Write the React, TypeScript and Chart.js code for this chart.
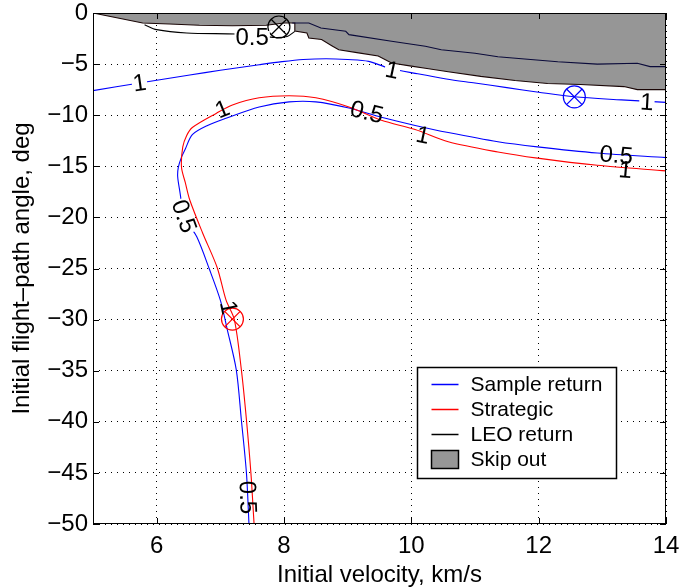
import { useEffect, useRef } from 'react';
import { Chart, registerables } from 'chart.js';

Chart.register(...registerables);

const FONT = '"Liberation Sans", Arial, Helvetica, sans-serif';

// Axis ticks
const xTicks = [6, 8, 10, 12, 14];
const yTicks = [0, -5, -10, -15, -20, -25, -30, -35, -40, -45, -50];

// Skip-out region: lower boundary (filled up to gamma = 0)
const skipV = [5, 5.78, 6.2, 6.67, 7.19, 7.72, 8.0, 8.17, 8.17, 8.36, 8.39, 8.59, 8.75, 8.86, 9.17, 9.48, 9.69, 10.0, 10.22, 10.58, 11.09, 11.63, 12.14, 12.66, 13.34, 13.55, 14];
const skipGamma = [0, -0.98, -1.08, -1.2, -1.25, -1.2, -0.98, -0.98, -1.76, -1.96, -2.45, -2.6, -3.2, -3.6, -3.9, -4.2, -4.9, -5.2, -5.4, -5.75, -6.2, -6.6, -6.9, -7.0, -7.2, -7.5, -7.5];

// Inner boundary inside the skip-out region
const innerV = [8.13, 8.39, 8.58, 8.97, 9.02, 9.69, 10.22, 10.47, 11.0, 11.36, 11.78, 12.3, 12.92, 13.55, 13.75, 14];
const innerGamma = [-0.98, -0.98, -1.47, -1.79, -2.12, -2.77, -3.26, -3.59, -3.94, -4.28, -4.5, -4.77, -5.0, -4.92, -5.25, -5.25];

// LEO return, 0.5 contour
const leoV = [5.81, 6.0, 6.47, 7.25, 7.6, 7.85, 8.05, 8.17];
const leoGamma = [-1.14, -1.63, -1.96, -2.05, -2.2, -2.4, -2.3, -1.8];

// Sample return, upper contour (1)
const srUpperV = [5, 5.73, 6.52, 7.0, 7.61, 7.97, 8.3, 8.66, 9.0, 9.33, 9.64, 10.1, 10.55, 11.0, 11.5, 12.0, 12.56, 13.3, 14];
const srUpperGamma = [-7.6, -6.85, -6.07, -5.6, -5.06, -4.76, -4.55, -4.47, -4.55, -4.73, -5.38, -5.95, -6.45, -6.85, -7.3, -7.75, -8.2, -8.5, -8.75];

// Sample return, lower contours (0.5 / 1)
const srLowerV = [7.45, 7.41, 7.33, 7.25, 7.11, 7.0, 6.83, 6.63, 6.44, 6.36, 6.33, 6.34, 6.39, 6.45, 6.56, 6.8, 7.09, 7.61, 8.08, 8.5, 9.02, 9.53, 10.06, 10.58, 11.36, 11.98, 12.92, 14];
const srLowerGamma = [-50, -45, -39.8, -34.9, -31.0, -28.1, -25.1, -21.9, -20.0, -17.3, -16.0, -15.1, -14.1, -13.3, -11.9, -11.0, -10.3, -9.2, -8.7, -8.7, -9.3, -10.2, -11.0, -11.7, -12.6, -13.1, -13.7, -14.15];

// Strategic contours (0.5 / 1)
const stratV = [7.53, 7.48, 7.41, 7.33, 7.22, 7.09, 6.95, 6.72, 6.52, 6.45, 6.39, 6.41, 6.47, 6.56, 6.94, 7.19, 7.61, 8.08, 8.5, 9.02, 9.53, 10.06, 10.58, 11.36, 11.98, 12.92, 14];
const stratGamma = [-50, -45, -39.8, -34.9, -30.0, -28.1, -24.9, -21.5, -18.3, -16.6, -15.1, -13.1, -12.0, -11.2, -9.8, -9.0, -8.3, -8.1, -8.3, -9.2, -10.5, -11.4, -12.6, -13.6, -14.2, -14.9, -15.45];

// Design points
const pointV = [7.92, 12.56, 7.19];
const pointGamma = [-1.37, -8.2, -29.95];
const pointColors = ['#000000', '#0000ff', '#ff0000'];

// Contour labels
const labelText = ['0.5', '1', '1', '1', '1', '0.5', '1', '0.5', '1', '0.5', '1', '0.5'];
const labelV = [7.5, 5.73, 9.7, 13.7, 7.03, 9.3, 10.18, 13.22, 13.36, 6.43, 7.13, 7.43];
const labelGamma = [-2.35, -6.85, -5.6, -8.72, -9.4, -9.7, -11.95, -13.9, -15.35, -19.9, -28.8, -47.4];
const labelRot = [0, -8, 12, 3, -22, 14, 12, 5, 5, 70, 78, 88];
const labelGap = [true, true, true, true, false, false, false, false, false, true, false, false];

const legendNames = ['Sample return', 'Strategic', 'LEO return', 'Skip out'];
const legendColors = ['#0000ff', '#ff0000', '#000000', '#969696'];

const xy = (xs: number[], ys: number[]) => xs.map((x, i) => ({ x, y: ys[i] }));

const line = (data: { x: number; y: number }[], color: string, order = 1) => ({
  data,
  borderColor: color,
  borderWidth: 1.1,
  pointRadius: 0,
  tension: 0.3,
  fill: false,
  order,
});

const decorPlugin = {
  id: 'decor',
  afterDatasetsDraw(chart: any) {
    const { ctx, chartArea: a, scales } = chart;
    const sx = scales.x, sy = scales.y;
    ctx.save();
    // contour labels
    ctx.font = `24px ${FONT}`;
    ctx.textAlign = 'center';
    ctx.textBaseline = 'middle';
    labelText.forEach((t, i) => {
      const px = sx.getPixelForValue(labelV[i]);
      const py = sy.getPixelForValue(labelGamma[i]);
      ctx.save();
      ctx.translate(px, py);
      ctx.rotate((labelRot[i] * Math.PI) / 180);
      if (labelGap[i]) {
        const w = ctx.measureText(t).width;
        ctx.fillStyle = '#ffffff';
        ctx.fillRect(-w / 2 - 1, -6, w + 2, 12);
      }
      ctx.fillStyle = '#000000';
      ctx.fillText(t, 0, 1);
      ctx.restore();
    });
    // frame with inward ticks
    ctx.strokeStyle = '#000000';
    ctx.lineWidth = 1;
    ctx.strokeRect(Math.round(a.left) + 0.5, Math.round(a.top) + 0.5, Math.round(a.right - a.left) - 1, Math.round(a.bottom - a.top) - 1);
    const tl = 6;
    ctx.beginPath();
    xTicks.forEach((v) => {
      const px = Math.round(sx.getPixelForValue(v)) + 0.5;
      ctx.moveTo(px, a.bottom);
      ctx.lineTo(px, a.bottom - tl);
      ctx.moveTo(px, a.top);
      ctx.lineTo(px, a.top + tl);
    });
    yTicks.forEach((v) => {
      const py = Math.round(sy.getPixelForValue(v)) + 0.5;
      ctx.moveTo(a.left, py);
      ctx.lineTo(a.left + tl, py);
      ctx.moveTo(a.right, py);
      ctx.lineTo(a.right - tl, py);
    });
    ctx.stroke();
    ctx.restore();
  },
  afterDraw(chart: any) {
    const { ctx, chartArea: a } = chart;
    ctx.save();
    const bx = Math.round(a.right) - 248.5;
    const by = Math.round(a.bottom) - 156.5;
    const bw = 199;
    const bh = 111;
    ctx.fillStyle = '#ffffff';
    ctx.fillRect(bx, by, bw, bh);
    ctx.strokeStyle = '#000000';
    ctx.lineWidth = 1.5;
    ctx.strokeRect(bx, by, bw, bh);
    ctx.font = `21px ${FONT}`;
    ctx.textAlign = 'left';
    ctx.textBaseline = 'middle';
    legendNames.forEach((name, i) => {
      const cy = by + 17 + i * 25;
      if (i < 3) {
        ctx.strokeStyle = legendColors[i];
        ctx.lineWidth = 1.5;
        ctx.beginPath();
        ctx.moveTo(bx + 14, cy);
        ctx.lineTo(bx + 41, cy);
        ctx.stroke();
      } else {
        ctx.fillStyle = legendColors[i];
        ctx.fillRect(bx + 14, cy - 9, 27, 18);
        ctx.strokeStyle = '#000000';
        ctx.lineWidth = 1.5;
        ctx.strokeRect(bx + 14, cy - 9, 27, 18);
      }
      ctx.fillStyle = '#000000';
      ctx.fillText(name, bx + 53, cy + 1);
    });
    ctx.restore();
  },
};

export default function App() {
  const ref = useRef<HTMLCanvasElement | null>(null);

  useEffect(() => {
    if (!ref.current) return;
    const markerData = xy(pointV, pointGamma);
    const chart = new Chart(ref.current, {
      type: 'line',
      data: {
        datasets: [
          {
            data: xy(skipV, skipGamma),
            borderColor: '#1a0606',
            borderWidth: 1.1,
            backgroundColor: '#969696',
            pointRadius: 0,
            tension: 0,
            fill: 'end',
            order: 10,
          },
          { ...line(xy(innerV, innerGamma), '#0a0a3a', 5), tension: 0 },
          line(xy(leoV, leoGamma), '#000000', 4),
          line(xy(srUpperV, srUpperGamma), '#0000ff', 3),
          line(xy(srLowerV, srLowerGamma), '#0000ff', 3),
          line(xy(stratV, stratGamma), '#ff0000', 2),
          {
            data: markerData,
            showLine: false,
            pointStyle: 'circle',
            pointRadius: 11,
            pointBorderWidth: 1.2,
            pointBackgroundColor: 'rgba(0,0,0,0)',
            pointBorderColor: pointColors,
            order: 0,
          },
          {
            data: markerData,
            showLine: false,
            pointStyle: 'crossRot',
            pointRadius: 11,
            pointBorderWidth: 1.2,
            pointBorderColor: pointColors,
            order: 0,
          },
        ] as any,
      },
      options: {
        animation: false,
        responsive: false,
        events: [],
        layout: { padding: { top: 13, right: 14, left: 0, bottom: 0 } },
        plugins: { legend: { display: false }, tooltip: { enabled: false } },
        scales: {
          x: {
            type: 'linear',
            min: 5,
            max: 14,
            afterBuildTicks: (s: any) => {
              s.ticks = xTicks.map((value) => ({ value }));
            },
            afterFit: (s: any) => {
              s.height = 63;
              s.paddingLeft = 0;
              s.paddingRight = 0;
            },
            grid: { color: '#000000', lineWidth: 1, drawTicks: false },
            border: { display: false, dash: [1, 5] },
            ticks: {
              color: '#000000',
              font: { family: FONT, size: 24 },
              padding: 8,
              maxRotation: 0,
            },
            title: {
              display: true,
              text: 'Initial velocity, km/s',
              color: '#000000',
              font: { family: FONT, size: 24 },
              padding: { top: 0, bottom: -3 },
            },
          },
          y: {
            type: 'linear',
            min: -50,
            max: 0,
            afterBuildTicks: (s: any) => {
              s.ticks = yTicks.map((value) => ({ value }));
            },
            afterFit: (s: any) => {
              s.width = 93;
              s.paddingTop = 0;
              s.paddingBottom = 0;
            },
            grid: { color: '#000000', lineWidth: 1, drawTicks: false },
            border: { display: false, dash: [1, 5] },
            ticks: {
              color: '#000000',
              font: { family: FONT, size: 24 },
              padding: 5,
              callback: (v: any) => (Number(v) < 0 ? '\u2212' + Math.abs(Number(v)) : String(v)),
            },
            title: {
              display: true,
              text: 'Initial flight\u2013path angle, deg',
              color: '#000000',
              font: { family: FONT, size: 24 },
              padding: { top: 8, bottom: 0 },
            },
          },
        },
      },
      plugins: [decorPlugin],
    });
    return () => chart.destroy();
  }, []);

  return (
    <div style={{ position: 'absolute', left: 0, top: 0, width: 680, height: 587, background: '#ffffff' }}>
      <canvas ref={ref} width={680} height={587} style={{ display: 'block' }} />
    </div>
  );
}
